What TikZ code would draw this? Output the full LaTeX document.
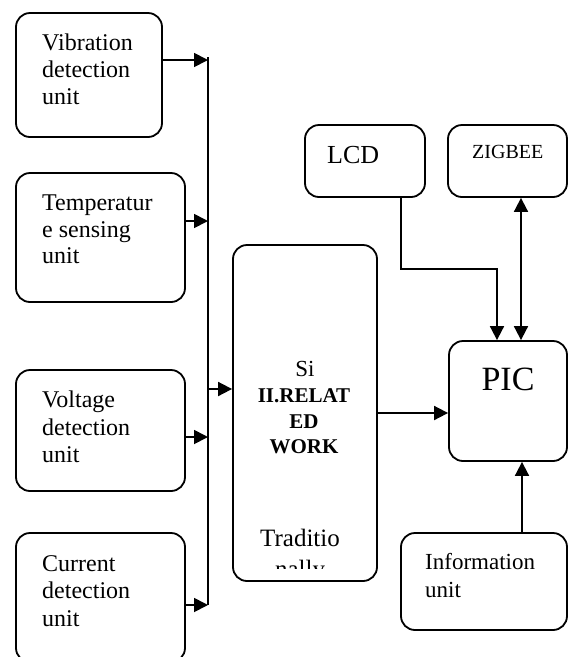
\documentclass[tikz,border=0pt]{standalone}
\usepackage{fontspec}
\setmainfont{Liberation Serif}
\usetikzlibrary{arrows.meta}

\begin{document}
\begin{tikzpicture}[x=1pt,y=-1pt,
  box/.style={draw,line width=1.8pt,rounded corners=14pt,inner sep=0pt},
  arr/.style={line width=1.8pt,-{Triangle[length=14pt,width=14pt]}},
  arrboth/.style={line width=1.8pt,{Triangle[length=14pt,width=14pt]}-{Triangle[length=14pt,width=14pt]}},
  wire/.style={line width=1.8pt},
  lbl/.style={inner sep=0pt,anchor=base west,font=\fontsize{24}{27}\selectfont},
  mid/.style={inner sep=0pt,anchor=base},
]
\useasboundingbox (0,0) rectangle (568,657);
\clip (0,0) rectangle (568,657);

% sensing units on the left
\node[box,minimum width=146pt,minimum height=124pt] (vib)  at (89,75)    {};
\node[box,minimum width=169pt,minimum height=129pt] (temp) at (100.5,237.5) {};
\node[box,minimum width=169pt,minimum height=121pt] (volt) at (100.5,430.5) {};
\node[box,minimum width=169pt,minimum height=129pt] (curr) at (100.5,597.5) {};

\node[lbl] (vib1) at (42,50)  {Vibration};
\node[lbl] (vib2) at (42,77)  {detection};
\node[lbl] (vib3) at (42,104) {unit};
\node[lbl] (tmp1) at (42,210) {Temperatur};
\node[lbl] (tmp2) at (42,237) {e sensing};
\node[lbl] (tmp3) at (42,263) {unit};
\node[lbl] (vlt1) at (42,407) {Voltage};
\node[lbl] (vlt2) at (42,435) {detection};
\node[lbl] (vlt3) at (42,462) {unit};
\node[lbl] (cur1) at (42,571) {Current};
\node[lbl] (cur2) at (42,598) {detection};
\node[lbl] (cur3) at (42,626) {unit};

% central block
\node[box,minimum width=144pt,minimum height=336pt] (blk) at (305,413) {};
\node[mid,font=\fontsize{23}{27}\selectfont] (si) at (305,376) {Si};
\node[mid,font=\bfseries\fontsize{21}{25}\selectfont] (rw1) at (304,402) {II.RELAT};
\node[mid,font=\bfseries\fontsize{21}{25}\selectfont] (rw2) at (304,428) {ED};
\node[mid,font=\bfseries\fontsize{21}{25}\selectfont] (rw3) at (304,453) {WORK};
\node[mid,font=\fontsize{25}{29}\selectfont] (tr1) at (300,546) {Traditio};
\begin{scope}
  \clip (234,500) rectangle (376,568);
  \node[mid,font=\fontsize{25}{29}\selectfont] (tr2) at (300,577) {nally};
\end{scope}

% right-hand blocks
\node[box,minimum width=120pt,minimum height=72pt]  (lcd)  at (365,161)   {};
\node[box,minimum width=119pt,minimum height=72pt]  (zig)  at (507.5,161) {};
\node[box,minimum width=118pt,minimum height=120pt] (pic)  at (508,401)   {};
\node[box,minimum width=166pt,minimum height=97pt]  (info) at (484,581.5) {};

\node[inner sep=0pt,anchor=base west,font=\fontsize{26}{30}\selectfont] (lcdt) at (327,163) {LCD};
\node[inner sep=0pt,anchor=base west,font=\fontsize{20}{24}\selectfont] (zigt) at (472,158) {ZIGBEE};
\node[inner sep=0pt,anchor=base,font=\fontsize{34}{40}\selectfont] (pict) at (508,390) {PIC};
\node[lbl,font=\fontsize{23}{27}\selectfont] (inf1) at (425,569) {Information};
\node[lbl,font=\fontsize{23}{27}\selectfont] (inf2) at (425,597) {unit};

% collecting bus
\coordinate (btop) at (208,57);
\coordinate (b1) at (208,60);
\coordinate (b2) at (208,221);
\coordinate (b5) at (208,389);
\coordinate (b3) at (208,437);
\coordinate (b4) at (208,605);
\draw[wire] (btop) -- (b4);
\draw[arr] (vib.east |- b1) -- (b1);
\draw[arr] (temp.east |- b2) -- (b2);
\draw[arr] (volt.east |- b3) -- (b3);
\draw[arr] (curr.east |- b4) -- (b4);
\draw[arr] (b5) -- (blk.west |- b5);

% links to the controller
\coordinate (pin) at (420,413);
\draw[arr] (blk.east |- pin) -- (pic.west |- pin);
\coordinate (l1) at (401,269);
\coordinate (l2) at (497,269);
\draw[arr,line join=miter] (lcd.south -| l1) -- (l1) -- (l2) -- (pic.north -| l2);
\coordinate (z) at (521,300);
\draw[arrboth] (zig.south -| z) -- (pic.north -| z);
\coordinate (iv) at (522,500);
\draw[arr] (info.north -| iv) -- (pic.south -| iv);
\end{tikzpicture}
\end{document}
